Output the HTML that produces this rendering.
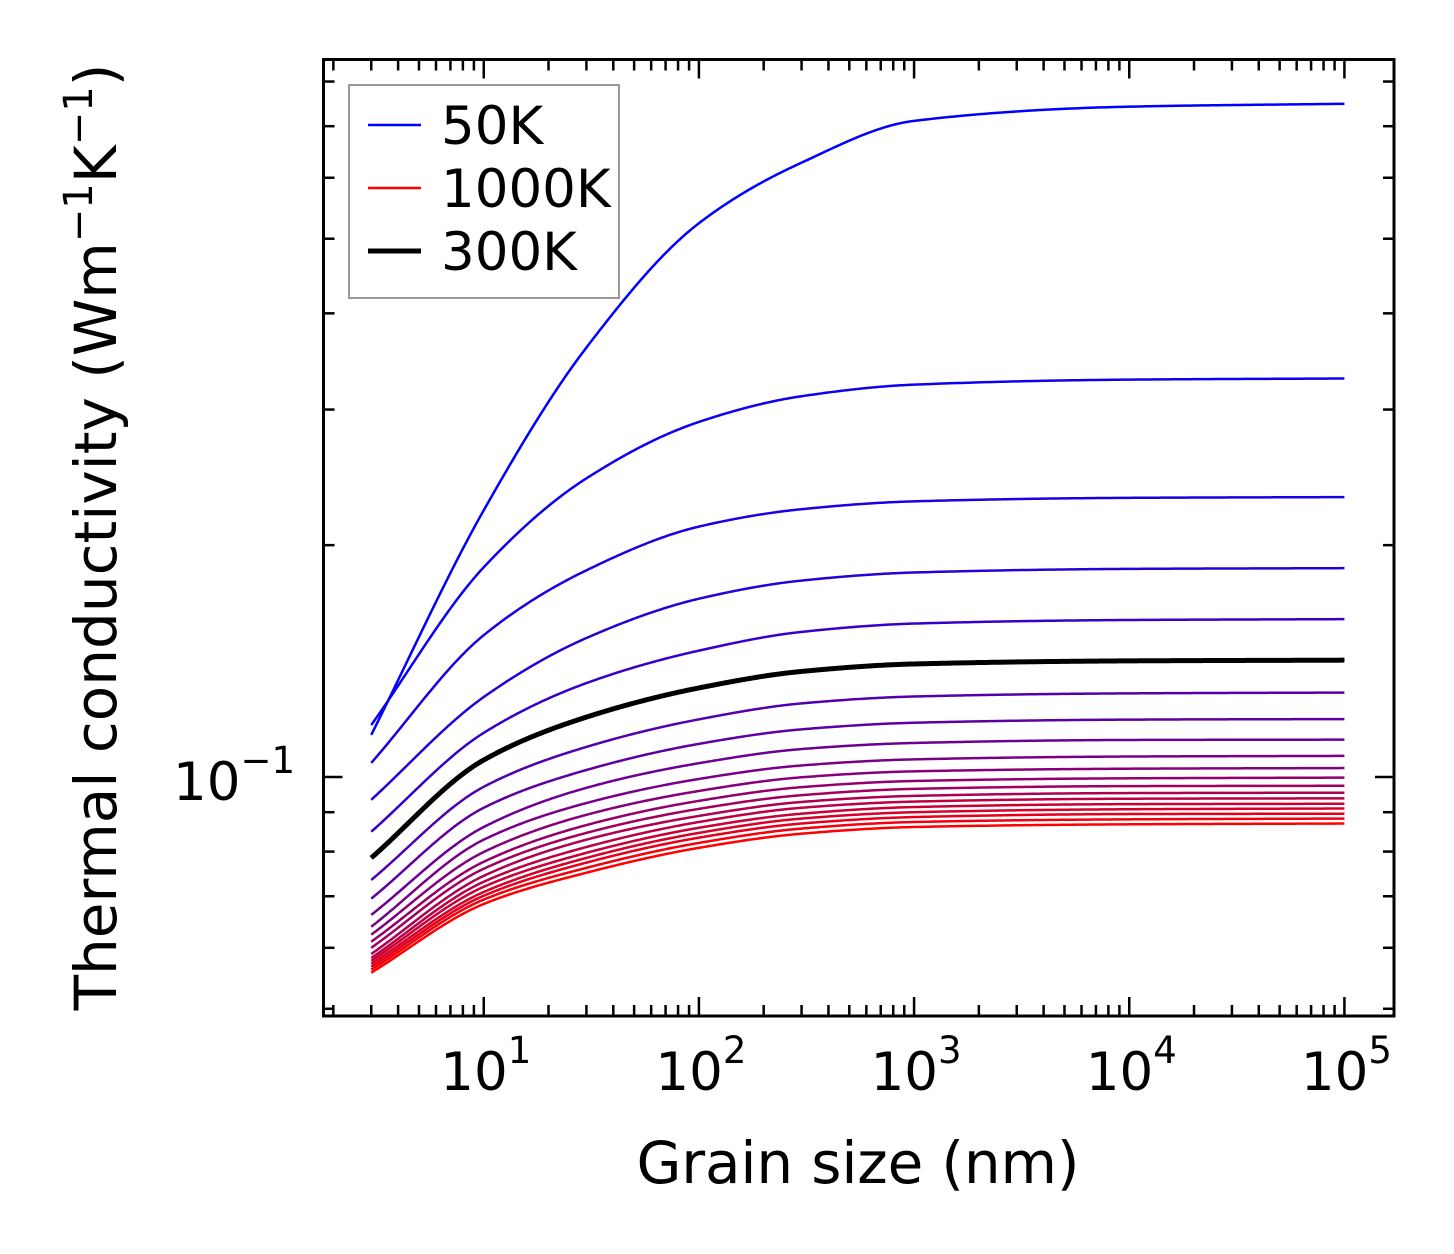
<!DOCTYPE html>
<html><head><meta charset="utf-8"><style>
html,body{margin:0;padding:0;background:#fff}
svg{display:block;font-family:"DejaVu Sans","Liberation Sans",sans-serif}
</style></head><body>
<svg id="chart" width="1454" height="1254" viewBox="0 0 1454 1254" xmlns="http://www.w3.org/2000/svg">
<rect x="0" y="0" width="1454" height="1254" fill="#fff"/>
<g id="curves"></g>
<g id="ticks"></g>
<rect x="323.5" y="59.5" width="1070.5" height="956.5" fill="none" stroke="#000" stroke-width="3"/>
<g id="xlabels"></g>
<g><text x="295" y="800" font-size="53" text-anchor="end">10<tspan font-size="37" dy="-27">−1</tspan></text></g>
<text x="858" y="1183" font-size="58" text-anchor="middle" textLength="443">Grain size (nm)</text>
<text transform="translate(116,537) rotate(-90)" font-size="58" text-anchor="middle">Thermal conductivity (Wm<tspan font-size="40" dy="-24">−1</tspan><tspan dy="24">K</tspan><tspan font-size="40" dy="-24">−1</tspan><tspan dy="24">)</tspan></text>
<g>
<rect x="349" y="85" width="270" height="213" fill="#fff" fill-opacity="0.8" stroke="#999" stroke-width="2"/>
<line x1="368" y1="125" x2="421" y2="125" stroke="#0000ff" stroke-width="2.5"/>
<text x="441" y="144" font-size="53">50K</text>
<line x1="368" y1="188" x2="421" y2="188" stroke="#ff0000" stroke-width="2.5"/>
<text x="441" y="207" font-size="53">1000K</text>
<line x1="368" y1="251" x2="421" y2="251" stroke="#000" stroke-width="5"/>
<text x="441" y="270" font-size="53">300K</text>
</g>
</svg>
<script>
const grainSizes = [3, 10, 30, 100, 300, 1000, 10000, 100000];
const temperatures = [50,100,150,200,250,300,350,400,450,500,550,600,650,700,750,800,850,900,950,1000];
const k050 = [0.1134,0.2220,0.3611,0.5237,0.6277,0.7112,0.7421,0.7485];
const k100 = [0.1168,0.1872,0.2442,0.2891,0.3122,0.3232,0.3281,0.3292];
const k150 = [0.1043,0.1528,0.1855,0.2114,0.2227,0.2280,0.2304,0.2309];
const k200 = [0.0934,0.1270,0.1515,0.1704,0.1799,0.1843,0.1863,0.1867];
const k250 = [0.0849,0.1141,0.1324,0.1459,0.1543,0.1582,0.1599,0.1603];
const k300 = [0.0785,0.1052,0.1196,0.1305,0.1371,0.1402,0.1415,0.1418];
const k350 = [0.0735,0.0971,0.1094,0.1188,0.1246,0.1272,0.1284,0.1287];
const k400 = [0.0695,0.0912,0.1021,0.1104,0.1153,0.1176,0.1187,0.1189];
const k450 = [0.0662,0.0861,0.0968,0.1042,0.1087,0.1107,0.1117,0.1118];
const k500 = [0.0639,0.0829,0.0925,0.0994,0.1035,0.1054,0.1063,0.1065];
const k550 = [0.0624,0.0799,0.0893,0.0959,0.0999,0.1017,0.1025,0.1027];
const k600 = [0.0611,0.0776,0.0866,0.0931,0.0970,0.0988,0.0996,0.0998];
const k650 = [0.0600,0.0760,0.0846,0.0909,0.0947,0.0965,0.0973,0.0974];
const k700 = [0.0589,0.0744,0.0829,0.0890,0.0928,0.0945,0.0953,0.0954];
const k750 = [0.0582,0.0731,0.0811,0.0874,0.0912,0.0929,0.0937,0.0938];
const k800 = [0.0577,0.0720,0.0797,0.0859,0.0896,0.0914,0.0922,0.0923];
const k850 = [0.0572,0.0709,0.0785,0.0846,0.0883,0.0900,0.0908,0.0910];
const k900 = [0.0567,0.0701,0.0774,0.0834,0.0870,0.0887,0.0895,0.0896];
const k950 = [0.0562,0.0693,0.0762,0.0821,0.0857,0.0874,0.0881,0.0883];
const k1000 = [0.0557,0.0684,0.0751,0.0809,0.0844,0.0861,0.0868,0.0870];
const xTickExps = [1,2,3,4,5];
const xTickLabels = ["1","2","3","4","5"];

const series = [k050,k100,k150,k200,k250,k300,k350,k400,k450,k500,k550,k600,k650,k700,k750,k800,k850,k900,k950,k1000];
const NS='http://www.w3.org/2000/svg';
const X0=323.5,X1=1394,Y0=59.5,Y1=1016;
const xMin=Math.log10(1.8),xMax=Math.log10(170000);
const yMin=Math.log10(0.04893),yMax=Math.log10(0.8545);
function xs(v){return X0+(Math.log10(v)-xMin)/(xMax-xMin)*(X1-X0);}
function ys(v){return Y1-(Math.log10(v)-yMin)/(yMax-yMin)*(Y1-Y0);}

function curvePoints(xv,yv){
  const n=xv.length,lx=xv.map(Math.log10),ly=yv.map(Math.log10);
  const d=[],m=new Array(n);
  for(let i=0;i<n-1;i++)d.push((ly[i+1]-ly[i])/(lx[i+1]-lx[i]));
  m[0]=d[0];m[n-1]=d[n-2];
  for(let i=1;i<n-1;i++){
    if(d[i-1]*d[i]<=0){m[i]=0;}
    else{const h0=lx[i]-lx[i-1],h1=lx[i+1]-lx[i];const w1=2*h1+h0,w2=h1+2*h0;m[i]=(w1+w2)/(w1/d[i-1]+w2/d[i]);}
  }
  const pts=[];
  for(let i=0;i<n-1;i++){
    const h=lx[i+1]-lx[i];
    for(let k=0;k<60;k++){
      const t=k/60,t2=t*t,t3=t2*t;
      const v=(2*t3-3*t2+1)*ly[i]+(t3-2*t2+t)*h*m[i]+(-2*t3+3*t2)*ly[i+1]+(t3-t2)*h*m[i+1];
      pts.push([xs(Math.pow(10,lx[i]+t*h)),ys(Math.pow(10,v))]);
    }
  }
  pts.push([xs(xv[n-1]),ys(yv[n-1])]);
  return pts;
}
const cg=document.getElementById('curves');
function drawCurve(arr,color,w,name){
  const p=document.createElementNS(NS,'path');
  p.setAttribute('d',curvePoints(grainSizes,arr).map((q,i)=>(i?'L':'M')+q[0].toFixed(2)+' '+q[1].toFixed(2)).join(''));
  p.setAttribute('fill','none');p.setAttribute('stroke',color);p.setAttribute('stroke-width',w);
  p.setAttribute('stroke-linejoin','round');
  
  
  cg.appendChild(p);
}
series.forEach((s,i)=>{
  const t=i/(series.length-1);
  drawCurve(s,`rgb(${Math.round(255*t)},0,${Math.round(255*(1-t))})`,2.5,'curve-'+temperatures[i]+'k');
});
drawCurve(k300,'#000',5,'curve-300k-highlight');

const tg=document.getElementById('ticks');
function tick(x1,y1,x2,y2,name){
  const l=document.createElementNS(NS,'line');
  l.setAttribute('x1',x1);l.setAttribute('y1',y1);l.setAttribute('x2',x2);l.setAttribute('y2',y2);
  l.setAttribute('stroke','#000');l.setAttribute('stroke-width','2.5');
  
  
  tg.appendChild(l);
}
for(let e=0;e<=5;e++){for(let k=1;k<=9;k++){
  const v=k*Math.pow(10,e),x=xs(v);
  if(x<X0+1||x>X1-1)continue;
  const L=k===1?19:11;
  tick(x,Y1,x,Y1-L,'x-tick');tick(x,Y0,x,Y0+L,'x-tick-top');
}}
for(let e=-2;e<=-1;e++){for(let k=1;k<=9;k++){
  const v=k*Math.pow(10,e),y=ys(v);
  if(y<Y0+1||y>Y1-1)continue;
  const L=k===1?19:11;
  tick(X0,y,X0+L,y,'y-tick');tick(X1,y,X1-L,y,'y-tick-right');
}}
const xl=document.getElementById('xlabels');
xTickExps.forEach((e,i)=>{
  const t=document.createElementNS(NS,'text');
  t.setAttribute('x',xs(Math.pow(10,e))+2);t.setAttribute('y',1090);
  t.setAttribute('font-size','53');t.setAttribute('text-anchor','middle');
  
  
  t.innerHTML='10<tspan font-size="37" dy="-27">'+xTickLabels[i]+'</tspan>';
  xl.appendChild(t);
});
</script>
</body></html>
